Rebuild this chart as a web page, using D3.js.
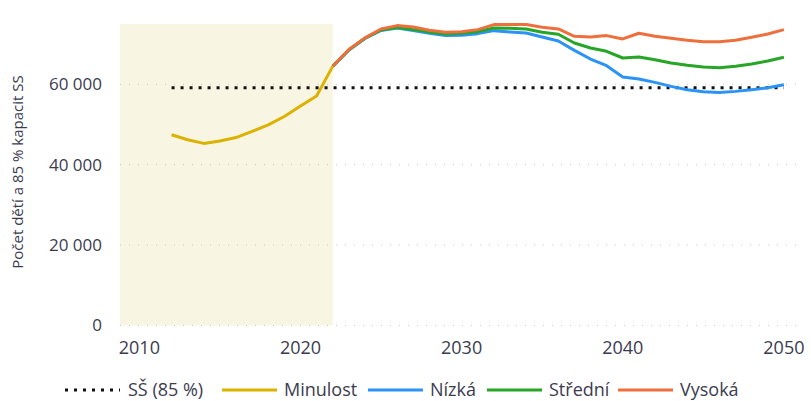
<!DOCTYPE html>
<html>
<head>
<meta charset="utf-8">
<script src="https://cdn.jsdelivr.net/npm/d3@7"></script>
<style>
  body { margin: 0; background: #fff; }
  svg text { font-family: "Open Sans", "Noto Sans", sans-serif; fill: #3b3b4f; }
</style>
</head>
<body>
<svg id="chart" width="811" height="401"></svg>
<script>
// Data
const pastYears = [2012, 2013, 2014, 2015, 2016, 2017, 2018, 2019, 2020, 2021, 2022];
const pastValues = [47450, 46200, 45300, 45900, 46750, 48300, 49900, 52000, 54600, 57100, 64460];

const projYears = [2022, 2023, 2024, 2025, 2026, 2027, 2028, 2029, 2030, 2031, 2032, 2033, 2034, 2035,
  2036, 2037, 2038, 2039, 2040, 2041, 2042, 2043, 2044, 2045, 2046, 2047, 2048, 2049, 2050];
const lowValues = [64460, 68500, 71400, 73400, 74000, 73350, 72690, 72110, 72190, 72600, 73350, 73020, 72770, 71770,
  70780, 68450, 66290, 64630, 61810, 61310, 60480, 59490, 58660, 58160, 57990, 58240, 58660, 59150, 59900];
const midValues = [64460, 68550, 71450, 73500, 74150, 73600, 73020, 72520, 72690, 73100, 74020, 73930, 73770, 72940,
  72440, 70280, 69030, 68200, 66540, 66790, 66130, 65300, 64720, 64300, 64130, 64470, 65050, 65800, 66710];
const highValues = [64460, 68650, 71550, 73750, 74600, 74260, 73430, 72940, 73100, 73600, 74850, 74850, 74850, 74180,
  73770, 71940, 71770, 72110, 71280, 72690, 71940, 71440, 70940, 70610, 70610, 70940, 71690, 72520, 73600];

const capacityYears = [2012, 2050];
const capacityValues = [59150, 59150];

const yTicks = [0, 20000, 40000, 60000];
const xTicks = [2010, 2020, 2030, 2040, 2050];
const pastSpan = [2008.8, 2022];

const legendItems = [
  {label: 'SŠ (85 %)', color: '#111', dotted: true},
  {label: 'Minulost', color: '#dcb200'},
  {label: 'Nízká', color: '#2a93f5'},
  {label: 'Střední', color: '#26a526'},
  {label: 'Vysoká', color: '#ef6f3c'}
];

const svg = d3.select('#chart');
const x = d3.scaleLinear().domain([2008.8, 2051]).range([120, 800]);
const y = d3.scaleLinear().domain([0, 75000]).range([325.5, 24]);

// shaded history band
svg.append('rect')
  .attr('x', x(pastSpan[0]))
  .attr('y', y(75000))
  .attr('width', x(pastSpan[1]) - x(pastSpan[0]))
  .attr('height', y(0) - y(75000))
  .attr('fill', '#f9f5e3');

// gridlines
svg.append('g')
  .selectAll('line')
  .data(yTicks)
  .join('line')
  .attr('x1', x.range()[0])
  .attr('x2', x.range()[1])
  .attr('y1', d => y(d))
  .attr('y2', d => y(d))
  .attr('stroke', '#c8c8c8')
  .attr('stroke-width', 1)
  .attr('stroke-dasharray', '1 8');

// y axis labels
const fmt = d => d3.format(',')(d).replace(/,/g, ' ');
svg.append('g')
  .selectAll('text')
  .data(yTicks)
  .join('text')
  .attr('x', 102)
  .attr('y', d => y(d))
  .attr('dy', '0.35em')
  .attr('text-anchor', 'end')
  .style('font-size', '17px')
  .text(fmt);

// x axis labels
svg.append('g')
  .selectAll('text')
  .data(xTicks)
  .join('text')
  .attr('x', d => x(d))
  .attr('y', 354)
  .attr('text-anchor', 'middle')
  .style('font-size', '18px')
  .text(d => d);

// y axis title
svg.append('text')
  .attr('transform', 'translate(23,172) rotate(-90)')
  .attr('text-anchor', 'middle')
  .style('font-size', '15px')
  .text('Počet dětí a 85 % kapacit SS');

const line = d3.line().x(d => x(d[0])).y(d => y(d[1]));
const zip = (a, b) => a.map((v, i) => [v, b[i]]);

// capacity line
svg.append('path')
  .attr('d', line(zip(capacityYears, capacityValues)))
  .attr('fill', 'none')
  .attr('stroke', '#111')
  .attr('stroke-width', 3)
  .attr('stroke-dasharray', '3 6');

const series = [
  {values: zip(projYears, lowValues), color: legendItems[2].color},
  {values: zip(projYears, midValues), color: legendItems[3].color},
  {values: zip(projYears, highValues), color: legendItems[4].color},
  {values: zip(pastYears, pastValues), color: legendItems[1].color}
];

svg.append('g')
  .selectAll('path')
  .data(series)
  .join('path')
  .attr('d', d => line(d.values))
  .attr('fill', 'none')
  .attr('stroke', d => d.color)
  .attr('stroke-width', 3)
  .attr('stroke-linejoin', 'round');

// legend
const legendPos = [65, 222, 368, 487, 618];
const legend = svg.append('g')
  .selectAll('g')
  .data(legendItems)
  .join('g')
  .attr('transform', (d, i) => `translate(${legendPos[i]},390)`);

legend.append('line')
  .attr('x1', 0)
  .attr('x2', 55)
  .attr('stroke', d => d.color)
  .attr('stroke-width', 3)
  .attr('stroke-dasharray', d => d.dotted ? '3 6' : null);

legend.append('text')
  .attr('x', (d, i) => i === 0 ? 63 : 62)
  .attr('dy', '0.32em')
  .style('font-size', '18px')
  .text(d => d.label);
</script>
</body>
</html>
